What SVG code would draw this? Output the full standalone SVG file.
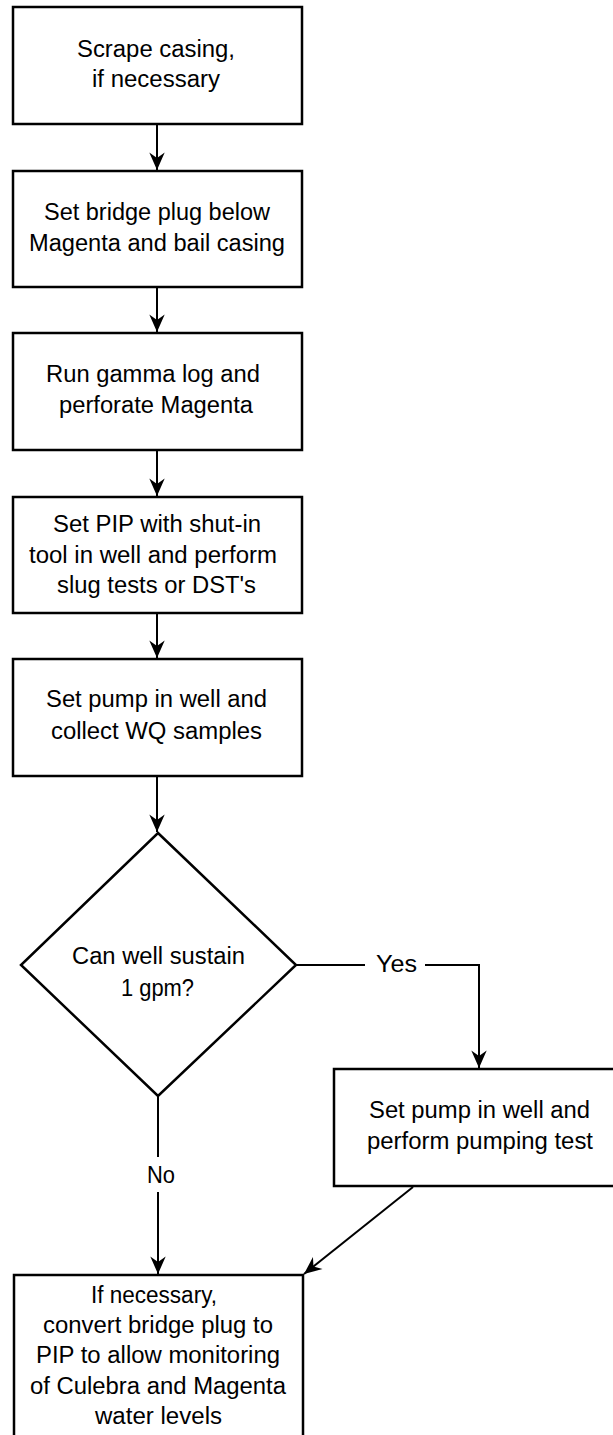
<svg xmlns="http://www.w3.org/2000/svg" width="613" height="1435" viewBox="0 0 613 1435">
<style>
.box{fill:#fff;stroke:#000;stroke-width:2.5}
.t{font-family:"Liberation Sans",Arial,sans-serif;font-size:23.5px;fill:#000}
.m{text-anchor:middle}
.c{fill:none;stroke:#000;stroke-width:2}
</style>
<defs>
<marker id="ah" markerUnits="userSpaceOnUse" markerWidth="22" markerHeight="22" viewBox="-18 -9 20 18" refX="0" refY="0" orient="auto">
<path d="M0,0 L-16,-7 L-11,0 L-16,7 Z" fill="#000"/>
</marker>
</defs>
<rect width="613" height="1435" fill="#fff"/>
<g id="connectors">
<line class="c" x1="157" y1="124" x2="157" y2="170" marker-end="url(#ah)"/>
<line class="c" x1="157" y1="287" x2="157" y2="332" marker-end="url(#ah)"/>
<line class="c" x1="157" y1="450" x2="157" y2="496" marker-end="url(#ah)"/>
<line class="c" x1="157" y1="613" x2="157" y2="658" marker-end="url(#ah)"/>
<line class="c" x1="157" y1="776" x2="157" y2="832" marker-end="url(#ah)"/>
<line class="c" x1="296" y1="965" x2="365" y2="965"/>
<polyline class="c" points="425,965 479,965 479,1068" marker-end="url(#ah)"/>
<line class="c" x1="158" y1="1096" x2="158" y2="1157"/>
<line class="c" x1="158" y1="1192" x2="158" y2="1274" marker-end="url(#ah)"/>
<line class="c" x1="413" y1="1187" x2="304" y2="1274" marker-end="url(#ah)"/>
<text class="t" x="376" y="972" textLength="41" lengthAdjust="spacingAndGlyphs">Yes</text>
<text class="t" x="147" y="1183" textLength="28" lengthAdjust="spacingAndGlyphs">No</text>
</g>
<g id="n1">
<rect class="box" x="13" y="7" width="289" height="117"/>
<text class="t" x="77" y="57" textLength="158" lengthAdjust="spacingAndGlyphs">Scrape casing,</text>
<text class="t" x="92" y="87" textLength="128" lengthAdjust="spacingAndGlyphs">if necessary</text>
</g>
<g id="n2">
<rect class="box" x="13" y="171" width="289" height="116"/>
<text class="t m" x="157" y="220" textLength="226" lengthAdjust="spacingAndGlyphs">Set bridge plug below</text>
<text class="t m" x="157" y="251" textLength="256" lengthAdjust="spacingAndGlyphs">Magenta and bail casing</text>
</g>
<g id="n3">
<rect class="box" x="13" y="333" width="289" height="117"/>
<text class="t" x="46" y="382" textLength="214" lengthAdjust="spacingAndGlyphs">Run gamma log and</text>
<text class="t" x="59" y="413" textLength="194" lengthAdjust="spacingAndGlyphs">perforate Magenta</text>
</g>
<g id="n4">
<rect class="box" x="13" y="497" width="289" height="116"/>
<text class="t" x="53" y="532" textLength="208" lengthAdjust="spacingAndGlyphs">Set PIP with shut-in</text>
<text class="t" x="29" y="563" textLength="248" lengthAdjust="spacingAndGlyphs">tool in well and perform</text>
<text class="t" x="57" y="593" textLength="199" lengthAdjust="spacingAndGlyphs">slug tests or DST's</text>
</g>
<g id="n5">
<rect class="box" x="13" y="659" width="289" height="117"/>
<text class="t" x="46" y="707" textLength="221" lengthAdjust="spacingAndGlyphs">Set pump in well and</text>
<text class="t" x="51" y="739" textLength="211" lengthAdjust="spacingAndGlyphs">collect WQ samples</text>
</g>
<g id="n6">
<polygon class="box" points="158,833 296,965 158,1096 21,965"/>
<text class="t" x="72" y="964" textLength="173" lengthAdjust="spacingAndGlyphs">Can well sustain</text>
<text class="t" x="121" y="996" textLength="73" lengthAdjust="spacingAndGlyphs">1 gpm?</text>
</g>
<g id="n7">
<rect class="box" x="334" y="1069" width="290" height="117"/>
<text class="t" x="369" y="1118" textLength="221" lengthAdjust="spacingAndGlyphs">Set pump in well and</text>
<text class="t" x="367" y="1149" textLength="226" lengthAdjust="spacingAndGlyphs">perform pumping test</text>
</g>
<g id="n8">
<rect class="box" x="14" y="1275" width="289" height="170"/>
<text class="t" x="91" y="1303" textLength="126" lengthAdjust="spacingAndGlyphs">If necessary,</text>
<text class="t" x="43" y="1333" textLength="230" lengthAdjust="spacingAndGlyphs">convert bridge plug to</text>
<text class="t" x="36" y="1363" textLength="244" lengthAdjust="spacingAndGlyphs">PIP to allow monitoring</text>
<text class="t" x="30" y="1394" textLength="256" lengthAdjust="spacingAndGlyphs">of Culebra and Magenta</text>
<text class="t" x="95" y="1424" textLength="127" lengthAdjust="spacingAndGlyphs">water levels</text>
</g>
</svg>
